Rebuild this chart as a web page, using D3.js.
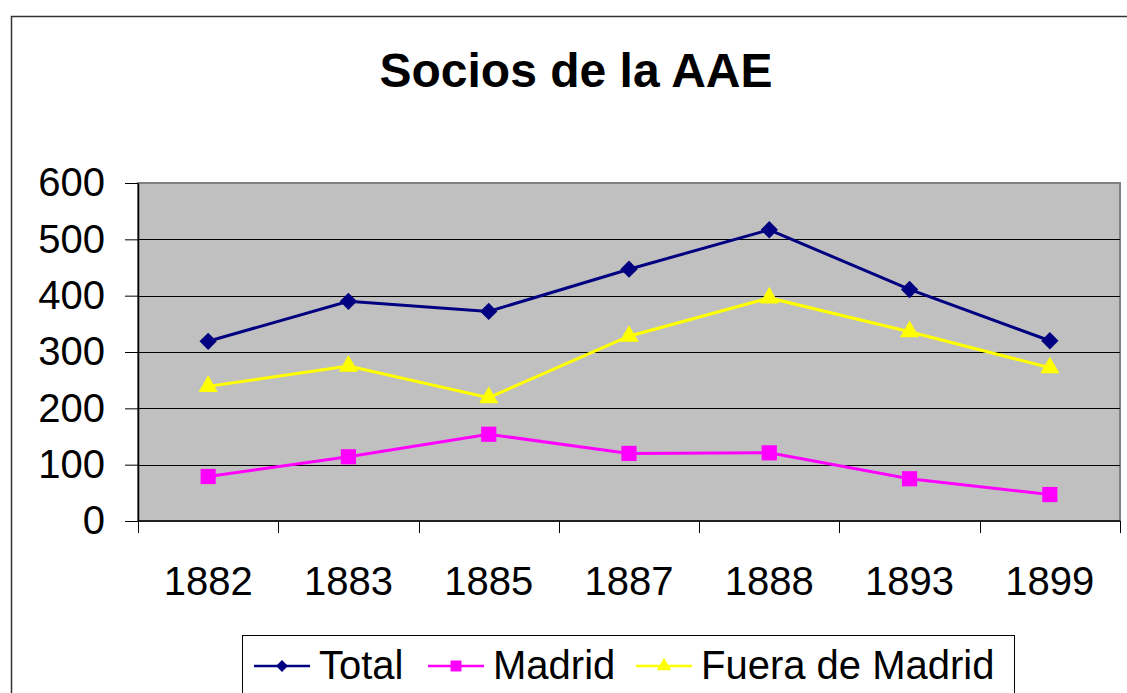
<!DOCTYPE html>
<html>
<head>
<meta charset="utf-8">
<script src="https://cdn.jsdelivr.net/npm/d3@7"></script>
<style>
  body { margin: 0; background: #fff; }
  svg { display: block; font-family: Arial, "Liberation Sans", sans-serif; }
</style>
</head>
<body>
<div id="chart"></div>
<script>
// data
const years = ["1882", "1883", "1885", "1887", "1888", "1893", "1899"];
const total = [319, 390, 372, 447, 517, 411, 320];
const madrid = [79, 114, 154, 120, 121, 75, 47];
const fuera = [239, 275, 219, 328, 396, 336, 272];
const yTicks = [0, 100, 200, 300, 400, 500, 600];

// diamond = square turned 45 degrees, like the spreadsheet marker
const series = [
  { name: "Total", values: total, color: "#000080", shape: d3.symbolSquare, rot: 45, size: 150, lsize: 70 },
  { name: "Madrid", values: madrid, color: "#ff00ff", shape: d3.symbolSquare, rot: 0, size: 230, lsize: 120 },
  { name: "Fuera de Madrid", values: fuera, color: "#ffff00", shape: d3.symbolTriangle, rot: 0, size: 160, lsize: 90 }
];

const w = 1127, h = 693;
const plot = { left: 138, top: 183, right: 1120, bottom: 521 };

const svg = d3.select('#chart').append('svg')
  .attr('width', w)
  .attr('height', h);

// outer chart frame (runs off the bottom/right of the picture)
svg.append('rect')
  .attr('x', 11.5).attr('y', 16.5)
  .attr('width', w + 20).attr('height', h + 20)
  .attr('fill', '#fff')
  .attr('stroke', '#333')
  .attr('stroke-width', 1.5);

// title
svg.append('text')
  .attr('x', 576).attr('y', 87)
  .attr('text-anchor', 'middle')
  .attr('font-size', 48)
  .attr('font-weight', 'bold')
  .text('Socios de la AAE');

const x = d3.scaleBand()
  .domain(years)
  .range([plot.left, plot.right]);

const y = d3.scaleLinear()
  .domain([0, 600])
  .range([plot.bottom, plot.top]);

// plot area
svg.append('rect')
  .attr('x', plot.left).attr('y', plot.top)
  .attr('width', plot.right - plot.left).attr('height', plot.bottom - plot.top)
  .attr('fill', '#c0c0c0')
  .attr('stroke', '#808080')
  .attr('stroke-width', 2);

// gridlines
svg.append('g')
  .selectAll('line')
  .data(yTicks.filter(d => d > 0 && d < 600))
  .enter().append('line')
  .attr('x1', plot.left).attr('x2', plot.right)
  .attr('y1', d => Math.round(y(d)) + 0.5)
  .attr('y2', d => Math.round(y(d)) + 0.5)
  .attr('stroke', '#000')
  .attr('stroke-width', 1);

// y axis
const yAxis = svg.append('g')
  .attr('transform', `translate(${plot.left},0)`)
  .call(d3.axisLeft(y).tickValues(yTicks).tickSize(13).tickPadding(20).tickSizeOuter(0));
yAxis.select('.domain').attr('stroke', '#000').attr('stroke-width', 1.5);
yAxis.selectAll('.tick line').attr('stroke', '#000');
yAxis.selectAll('.tick text')
  .attr('font-size', 40)
  .attr('font-family', 'Arial, "Liberation Sans", sans-serif')
  .attr('fill', '#000');

// x axis: ticks sit between categories
const xAxis = svg.append('g')
  .attr('transform', `translate(0,${plot.bottom})`);
xAxis.append('line')
  .attr('x1', plot.left).attr('x2', plot.right)
  .attr('stroke', '#000').attr('stroke-width', 1.5);
const bounds = years.map(d => x(d)).concat([plot.right]);
xAxis.selectAll('line.tk')
  .data(bounds)
  .enter().append('line')
  .attr('class', 'tk')
  .attr('x1', d => Math.round(d) + 0.5).attr('x2', d => Math.round(d) + 0.5)
  .attr('y1', 0).attr('y2', 12)
  .attr('stroke', '#000');
xAxis.selectAll('text')
  .data(years)
  .enter().append('text')
  .attr('x', d => x(d) + x.bandwidth() / 2)
  .attr('y', 74)
  .attr('text-anchor', 'middle')
  .attr('font-size', 40)
  .text(d => d);

// lines and markers
const line = d3.line()
  .x((d, i) => x(years[i]) + x.bandwidth() / 2)
  .y(d => y(d));

series.forEach(s => {
  svg.append('path')
    .datum(s.values)
    .attr('fill', 'none')
    .attr('stroke', s.color)
    .attr('stroke-width', 3)
    .attr('d', line);

  svg.append('g')
    .selectAll('path')
    .data(s.values)
    .enter().append('path')
    .attr('transform', (d, i) => `translate(${x(years[i]) + x.bandwidth() / 2},${y(d)}) rotate(${s.rot})`)
    .attr('d', d3.symbol().type(s.shape).size(s.size))
    .attr('fill', s.color);
});

// legend
const legend = svg.append('g');
legend.append('rect')
  .attr('x', 242.5).attr('y', 635.5)
  .attr('width', 772).attr('height', 80)
  .attr('fill', '#fff')
  .attr('stroke', '#000')
  .attr('stroke-width', 1);

const legendX = [254, 428, 636];
series.forEach((s, i) => {
  const lx = legendX[i];
  legend.append('line')
    .attr('x1', lx).attr('x2', lx + 56)
    .attr('y1', 666).attr('y2', 666)
    .attr('stroke', s.color)
    .attr('stroke-width', 2.5);
  legend.append('path')
    .attr('transform', `translate(${lx + 28},666) rotate(${s.rot})`)
    .attr('d', d3.symbol().type(s.shape).size(s.lsize))
    .attr('fill', s.color);
  legend.append('text')
    .attr('x', lx + 65).attr('y', 679)
    .attr('font-size', 40)
    .text(s.name);
});
</script>
</body>
</html>
